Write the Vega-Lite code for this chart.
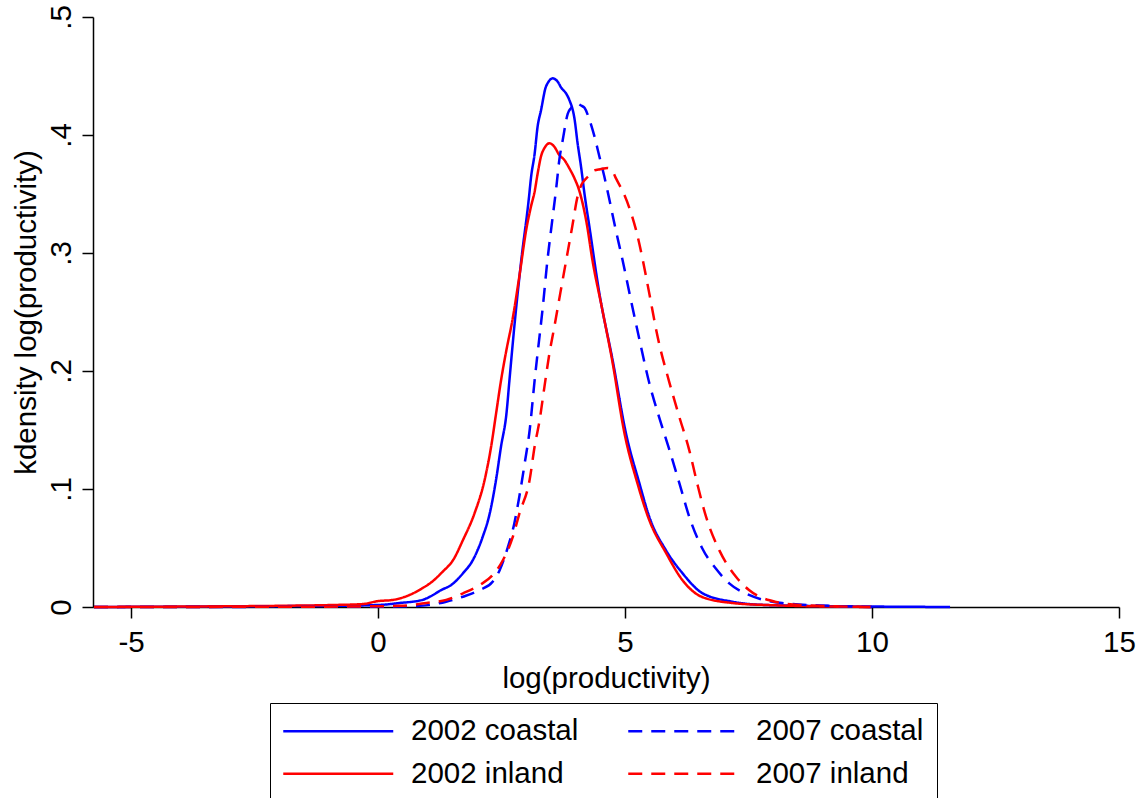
{
  "$schema": "https://vega.github.io/schema/vega-lite/v6.json",
  "width": 1026,
  "height": 590,
  "autosize": {"type": "none"},
  "padding": {"left": 93, "top": 17, "right": 22, "bottom": 191},
  "background": "white",
  "config": {"view": {"stroke": null}, "font": "Liberation Sans"},
  "datasets": {
    "curves": [
      {"x": -5.75, "d": 0, "s": "2002 coastal"},
      {"x": -4, "d": 0.0003, "s": "2002 coastal"},
      {"x": -2, "d": 0.0007, "s": "2002 coastal"},
      {"x": -1, "d": 0.001, "s": "2002 coastal"},
      {"x": 0, "d": 0.0017, "s": "2002 coastal"},
      {"x": 0.44, "d": 0.0034, "s": "2002 coastal"},
      {"x": 0.9, "d": 0.006, "s": "2002 coastal"},
      {"x": 1.05, "d": 0.0087, "s": "2002 coastal"},
      {"x": 1.28, "d": 0.0144, "s": "2002 coastal"},
      {"x": 1.48, "d": 0.0186, "s": "2002 coastal"},
      {"x": 1.72, "d": 0.0286, "s": "2002 coastal"},
      {"x": 1.92, "d": 0.0398, "s": "2002 coastal"},
      {"x": 2.12, "d": 0.0596, "s": "2002 coastal"},
      {"x": 2.26, "d": 0.079, "s": "2002 coastal"},
      {"x": 2.39, "d": 0.108, "s": "2002 coastal"},
      {"x": 2.49, "d": 0.136, "s": "2002 coastal"},
      {"x": 2.6, "d": 0.164, "s": "2002 coastal"},
      {"x": 2.66, "d": 0.192, "s": "2002 coastal"},
      {"x": 2.76, "d": 0.238, "s": "2002 coastal"},
      {"x": 2.9, "d": 0.294, "s": "2002 coastal"},
      {"x": 3.05, "d": 0.345, "s": "2002 coastal"},
      {"x": 3.1, "d": 0.365, "s": "2002 coastal"},
      {"x": 3.17, "d": 0.384, "s": "2002 coastal"},
      {"x": 3.23, "d": 0.407, "s": "2002 coastal"},
      {"x": 3.3, "d": 0.421, "s": "2002 coastal"},
      {"x": 3.4, "d": 0.441, "s": "2002 coastal"},
      {"x": 3.54, "d": 0.448, "s": "2002 coastal"},
      {"x": 3.64, "d": 0.445, "s": "2002 coastal"},
      {"x": 3.71, "d": 0.44, "s": "2002 coastal"},
      {"x": 3.81, "d": 0.435, "s": "2002 coastal"},
      {"x": 3.87, "d": 0.43, "s": "2002 coastal"},
      {"x": 3.98, "d": 0.413, "s": "2002 coastal"},
      {"x": 4.04, "d": 0.393, "s": "2002 coastal"},
      {"x": 4.11, "d": 0.373, "s": "2002 coastal"},
      {"x": 4.18, "d": 0.35, "s": "2002 coastal"},
      {"x": 4.28, "d": 0.322, "s": "2002 coastal"},
      {"x": 4.48, "d": 0.266, "s": "2002 coastal"},
      {"x": 4.75, "d": 0.209, "s": "2002 coastal"},
      {"x": 5.02, "d": 0.147, "s": "2002 coastal"},
      {"x": 5.29, "d": 0.105, "s": "2002 coastal"},
      {"x": 5.49, "d": 0.0765, "s": "2002 coastal"},
      {"x": 5.83, "d": 0.048, "s": "2002 coastal"},
      {"x": 6.16, "d": 0.0288, "s": "2002 coastal"},
      {"x": 6.56, "d": 0.0119, "s": "2002 coastal"},
      {"x": 7.17, "d": 0.0045, "s": "2002 coastal"},
      {"x": 7.85, "d": 0.0017, "s": "2002 coastal"},
      {"x": 9, "d": 0.0008, "s": "2002 coastal"},
      {"x": 10, "d": 0.0004, "s": "2002 coastal"},
      {"x": 11.58, "d": 0, "s": "2002 coastal"},

      {"x": -5.75, "d": 0, "s": "2002 inland"},
      {"x": -4, "d": 0.0004, "s": "2002 inland"},
      {"x": -2, "d": 0.001, "s": "2002 inland"},
      {"x": -0.91, "d": 0.0017, "s": "2002 inland"},
      {"x": -0.31, "d": 0.0025, "s": "2002 inland"},
      {"x": 0, "d": 0.005, "s": "2002 inland"},
      {"x": 0.3, "d": 0.006, "s": "2002 inland"},
      {"x": 0.64, "d": 0.0102, "s": "2002 inland"},
      {"x": 0.9, "d": 0.016, "s": "2002 inland"},
      {"x": 1.05, "d": 0.02, "s": "2002 inland"},
      {"x": 1.31, "d": 0.03, "s": "2002 inland"},
      {"x": 1.52, "d": 0.0398, "s": "2002 inland"},
      {"x": 1.72, "d": 0.0568, "s": "2002 inland"},
      {"x": 1.95, "d": 0.079, "s": "2002 inland"},
      {"x": 2.16, "d": 0.108, "s": "2002 inland"},
      {"x": 2.29, "d": 0.136, "s": "2002 inland"},
      {"x": 2.39, "d": 0.164, "s": "2002 inland"},
      {"x": 2.49, "d": 0.192, "s": "2002 inland"},
      {"x": 2.6, "d": 0.218, "s": "2002 inland"},
      {"x": 2.72, "d": 0.243, "s": "2002 inland"},
      {"x": 2.86, "d": 0.28, "s": "2002 inland"},
      {"x": 3.01, "d": 0.322, "s": "2002 inland"},
      {"x": 3.1, "d": 0.34, "s": "2002 inland"},
      {"x": 3.17, "d": 0.352, "s": "2002 inland"},
      {"x": 3.23, "d": 0.367, "s": "2002 inland"},
      {"x": 3.3, "d": 0.382, "s": "2002 inland"},
      {"x": 3.37, "d": 0.389, "s": "2002 inland"},
      {"x": 3.47, "d": 0.393, "s": "2002 inland"},
      {"x": 3.57, "d": 0.39, "s": "2002 inland"},
      {"x": 3.67, "d": 0.383, "s": "2002 inland"},
      {"x": 3.77, "d": 0.379, "s": "2002 inland"},
      {"x": 3.87, "d": 0.372, "s": "2002 inland"},
      {"x": 3.98, "d": 0.363, "s": "2002 inland"},
      {"x": 4.08, "d": 0.352, "s": "2002 inland"},
      {"x": 4.22, "d": 0.326, "s": "2002 inland"},
      {"x": 4.34, "d": 0.294, "s": "2002 inland"},
      {"x": 4.54, "d": 0.252, "s": "2002 inland"},
      {"x": 4.74, "d": 0.209, "s": "2002 inland"},
      {"x": 4.99, "d": 0.147, "s": "2002 inland"},
      {"x": 5.25, "d": 0.105, "s": "2002 inland"},
      {"x": 5.49, "d": 0.0737, "s": "2002 inland"},
      {"x": 5.83, "d": 0.0458, "s": "2002 inland"},
      {"x": 6.16, "d": 0.0229, "s": "2002 inland"},
      {"x": 6.56, "d": 0.0085, "s": "2002 inland"},
      {"x": 7.17, "d": 0.0034, "s": "2002 inland"},
      {"x": 7.85, "d": 0.0017, "s": "2002 inland"},
      {"x": 10, "d": 0, "s": "2002 inland"},

      {"x": -5.75, "d": 0, "s": "2007 coastal"},
      {"x": 0, "d": 0.0003, "s": "2007 coastal"},
      {"x": 0.78, "d": 0.0008, "s": "2007 coastal"},
      {"x": 1.38, "d": 0.0045, "s": "2007 coastal"},
      {"x": 1.72, "d": 0.0087, "s": "2007 coastal"},
      {"x": 2.06, "d": 0.0144, "s": "2007 coastal"},
      {"x": 2.32, "d": 0.0214, "s": "2007 coastal"},
      {"x": 2.46, "d": 0.031, "s": "2007 coastal"},
      {"x": 2.63, "d": 0.051, "s": "2007 coastal"},
      {"x": 2.76, "d": 0.071, "s": "2007 coastal"},
      {"x": 2.86, "d": 0.0935, "s": "2007 coastal"},
      {"x": 2.97, "d": 0.122, "s": "2007 coastal"},
      {"x": 3.07, "d": 0.15, "s": "2007 coastal"},
      {"x": 3.17, "d": 0.192, "s": "2007 coastal"},
      {"x": 3.23, "d": 0.215, "s": "2007 coastal"},
      {"x": 3.33, "d": 0.252, "s": "2007 coastal"},
      {"x": 3.43, "d": 0.294, "s": "2007 coastal"},
      {"x": 3.51, "d": 0.322, "s": "2007 coastal"},
      {"x": 3.61, "d": 0.356, "s": "2007 coastal"},
      {"x": 3.67, "d": 0.379, "s": "2007 coastal"},
      {"x": 3.74, "d": 0.396, "s": "2007 coastal"},
      {"x": 3.84, "d": 0.418, "s": "2007 coastal"},
      {"x": 3.91, "d": 0.423, "s": "2007 coastal"},
      {"x": 4.01, "d": 0.427, "s": "2007 coastal"},
      {"x": 4.11, "d": 0.425, "s": "2007 coastal"},
      {"x": 4.18, "d": 0.423, "s": "2007 coastal"},
      {"x": 4.28, "d": 0.413, "s": "2007 coastal"},
      {"x": 4.38, "d": 0.399, "s": "2007 coastal"},
      {"x": 4.48, "d": 0.382, "s": "2007 coastal"},
      {"x": 4.58, "d": 0.365, "s": "2007 coastal"},
      {"x": 4.68, "d": 0.346, "s": "2007 coastal"},
      {"x": 4.8, "d": 0.322, "s": "2007 coastal"},
      {"x": 4.95, "d": 0.294, "s": "2007 coastal"},
      {"x": 5.1, "d": 0.264, "s": "2007 coastal"},
      {"x": 5.29, "d": 0.227, "s": "2007 coastal"},
      {"x": 5.49, "d": 0.19, "s": "2007 coastal"},
      {"x": 5.69, "d": 0.161, "s": "2007 coastal"},
      {"x": 5.9, "d": 0.133, "s": "2007 coastal"},
      {"x": 6.1, "d": 0.105, "s": "2007 coastal"},
      {"x": 6.3, "d": 0.0765, "s": "2007 coastal"},
      {"x": 6.56, "d": 0.05, "s": "2007 coastal"},
      {"x": 6.85, "d": 0.032, "s": "2007 coastal"},
      {"x": 7.11, "d": 0.02, "s": "2007 coastal"},
      {"x": 7.51, "d": 0.0102, "s": "2007 coastal"},
      {"x": 8.18, "d": 0.0034, "s": "2007 coastal"},
      {"x": 9.13, "d": 0.001, "s": "2007 coastal"},
      {"x": 10, "d": 0, "s": "2007 coastal"},

      {"x": -5.75, "d": 0, "s": "2007 inland"},
      {"x": -1, "d": 0.0003, "s": "2007 inland"},
      {"x": 0.44, "d": 0.001, "s": "2007 inland"},
      {"x": 0.98, "d": 0.0034, "s": "2007 inland"},
      {"x": 1.38, "d": 0.006, "s": "2007 inland"},
      {"x": 1.72, "d": 0.0116, "s": "2007 inland"},
      {"x": 2.06, "d": 0.0186, "s": "2007 inland"},
      {"x": 2.32, "d": 0.027, "s": "2007 inland"},
      {"x": 2.53, "d": 0.0398, "s": "2007 inland"},
      {"x": 2.73, "d": 0.0596, "s": "2007 inland"},
      {"x": 2.86, "d": 0.079, "s": "2007 inland"},
      {"x": 3.07, "d": 0.108, "s": "2007 inland"},
      {"x": 3.17, "d": 0.136, "s": "2007 inland"},
      {"x": 3.27, "d": 0.158, "s": "2007 inland"},
      {"x": 3.37, "d": 0.187, "s": "2007 inland"},
      {"x": 3.47, "d": 0.215, "s": "2007 inland"},
      {"x": 3.57, "d": 0.2376, "s": "2007 inland"},
      {"x": 3.69, "d": 0.266, "s": "2007 inland"},
      {"x": 3.81, "d": 0.294, "s": "2007 inland"},
      {"x": 3.93, "d": 0.322, "s": "2007 inland"},
      {"x": 4.04, "d": 0.348, "s": "2007 inland"},
      {"x": 4.12, "d": 0.358, "s": "2007 inland"},
      {"x": 4.21, "d": 0.363, "s": "2007 inland"},
      {"x": 4.28, "d": 0.366, "s": "2007 inland"},
      {"x": 4.38, "d": 0.37, "s": "2007 inland"},
      {"x": 4.5, "d": 0.371, "s": "2007 inland"},
      {"x": 4.65, "d": 0.372, "s": "2007 inland"},
      {"x": 4.75, "d": 0.369, "s": "2007 inland"},
      {"x": 4.82, "d": 0.363, "s": "2007 inland"},
      {"x": 4.92, "d": 0.355, "s": "2007 inland"},
      {"x": 4.99, "d": 0.349, "s": "2007 inland"},
      {"x": 5.09, "d": 0.338, "s": "2007 inland"},
      {"x": 5.22, "d": 0.32, "s": "2007 inland"},
      {"x": 5.36, "d": 0.294, "s": "2007 inland"},
      {"x": 5.49, "d": 0.266, "s": "2007 inland"},
      {"x": 5.66, "d": 0.229, "s": "2007 inland"},
      {"x": 5.9, "d": 0.19, "s": "2007 inland"},
      {"x": 6.1, "d": 0.161, "s": "2007 inland"},
      {"x": 6.3, "d": 0.133, "s": "2007 inland"},
      {"x": 6.46, "d": 0.105, "s": "2007 inland"},
      {"x": 6.64, "d": 0.0765, "s": "2007 inland"},
      {"x": 6.91, "d": 0.048, "s": "2007 inland"},
      {"x": 7.25, "d": 0.0254, "s": "2007 inland"},
      {"x": 7.51, "d": 0.0144, "s": "2007 inland"},
      {"x": 8.06, "d": 0.0042, "s": "2007 inland"},
      {"x": 8.53, "d": 0.0017, "s": "2007 inland"},
      {"x": 10, "d": 0, "s": "2007 inland"}
    ]
  },
  "data": {"name": "curves"},
  "mark": {"type": "line", "strokeWidth": 2.5, "interpolate": "monotone"},
  "encoding": {
    "x": {
      "field": "x",
      "type": "quantitative",
      "scale": {"domain": [-5.77, 15], "nice": false, "zero": false},
      "axis": {
        "title": "log(productivity)",
        "values": [-5, 0, 5, 10, 15],
        "labelExpr": "'' + datum.value",
        "labelBaseline": "alphabetic",
        "labelPadding": 33,
        "labelFontSize": 29.5,
        "labelColor": "black",
        "labelFlush": false,
        "labelOverlap": false,
        "tickSize": 11,
        "tickWidth": 1.5,
        "tickColor": "black",
        "domainColor": "black",
        "domainWidth": 1.5,
        "grid": false,
        "titleFontSize": 29.5,
        "titleFontWeight": "normal",
        "titleColor": "black",
        "titleX": 513,
        "titleY": 80,
        "titleAlign": "center",
        "titleBaseline": "alphabetic"
      }
    },
    "y": {
      "field": "d",
      "type": "quantitative",
      "scale": {"domain": [0, 0.5], "nice": false},
      "axis": {
        "title": "kdensity log(productivity)",
        "values": [0, 0.1, 0.2, 0.3, 0.4, 0.5],
        "labelExpr": "datum.value == 0 ? '0' : replace(format(datum.value, '.1f'), '0.', '.')",
        "labelAngle": 270,
        "labelAlign": "center",
        "labelBaseline": "alphabetic",
        "labelPadding": 12,
        "labelFontSize": 29.5,
        "labelColor": "black",
        "labelFlush": false,
        "labelOverlap": false,
        "tickSize": 11,
        "tickWidth": 1.5,
        "tickColor": "black",
        "domainColor": "black",
        "domainWidth": 1.5,
        "grid": false,
        "titleFontSize": 29.5,
        "titleFontWeight": "normal",
        "titleColor": "black",
        "titleAngle": 270,
        "titleX": -58,
        "titleY": 295,
        "titleAlign": "center",
        "titleBaseline": "alphabetic"
      }
    },
    "color": {
      "field": "s",
      "type": "nominal",
      "scale": {
        "domain": ["2002 coastal", "2007 coastal", "2002 inland", "2007 inland"],
        "range": ["#0000ff", "#0000ff", "#ff0000", "#ff0000"]
      },
      "legend": {
        "title": null,
        "orient": "none",
        "direction": "horizontal",
        "legendX": 177,
        "legendY": 686,
        "columns": 2,
        "symbolType": "M-5,0H5",
        "symbolSize": 484,
        "symbolStrokeWidth": 2.5,
        "symbolOffset": 40.5,
        "labelOffset": 58,
        "labelFontSize": 29.5,
        "labelColor": "black",
        "labelLimit": 0,
        "rowPadding": 12,
        "columnPadding": 44,
        "padding": 13,
        "strokeColor": "black",
        "fillColor": "white"
      }
    },
    "strokeDash": {
      "field": "s",
      "type": "nominal",
      "scale": {
        "domain": ["2002 coastal", "2007 coastal", "2002 inland", "2007 inland"],
        "range": [[1, 0], [14, 9], [1, 0], [14, 9]]
      },
      "legend": {
        "title": null,
        "orient": "none",
        "direction": "horizontal",
        "legendX": 177,
        "legendY": 686,
        "columns": 2,
        "symbolType": "M-5,0H5",
        "symbolSize": 484,
        "symbolStrokeWidth": 2.5,
        "symbolOffset": 40.5,
        "labelOffset": 58,
        "labelFontSize": 29.5,
        "labelColor": "black",
        "labelLimit": 0,
        "rowPadding": 12,
        "columnPadding": 44,
        "padding": 13,
        "strokeColor": "black",
        "fillColor": "white"
      }
    }
  }
}
